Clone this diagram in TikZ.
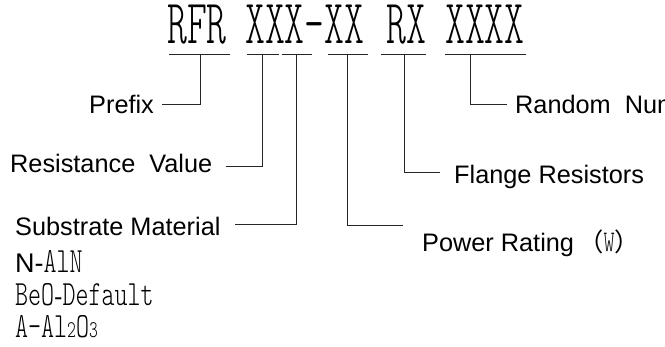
\documentclass[tikz,border=0pt]{standalone}
\usepackage{fontspec}
\setmainfont{Liberation Sans}
\newfontfamily\labfont{Liberation Sans}
\newfontfamily\codefont[FakeStretch=0.6]{Latin Modern Mono Light}
\newfontfamily\monofont[FakeStretch=0.70]{Latin Modern Mono Light}
\newfontfamily\cjkfont{Noto Sans CJK SC}
\begin{document}
\begin{tikzpicture}[x=1pt,y=-1pt,
  codetxt/.style={inner sep=0pt, anchor=base west, text height=32pt, text depth=0pt, font=\codefont\fontsize{63}{70}\selectfont},
  lbl/.style={inner sep=0pt, anchor=base west, font=\labfont\fontsize{25.3}{30}\selectfont},
  lst/.style={inner sep=0pt, anchor=base west, font=\monofont\fontsize{35.4}{40}\selectfont},
  ln/.style={draw=black!85, line width=0.9pt}]
\useasboundingbox (0,0) rectangle (665,346);
% code groups
\node[codetxt] (rfr) at (167,43) {RFR};
\node[codetxt] (xxx) at (245,43) {XXX-XX};
\node[codetxt] (rx) at (386,43) {RX};
\node[codetxt] (xxxx) at (445,43) {XXXX};
% underlines and ticks
\draw[ln] (169,54) -- (230,54);
\draw[ln] (247,54) -- (279,54);
\draw[ln] (282,54) -- (312,54);
\draw[ln] (328,54) -- (368,54);
\draw[ln] (381,54) -- (426,54);
\draw[ln] (445,54) -- (526,54);
\coordinate (t1) at (200,54);
\coordinate (t2) at (262,54);
\coordinate (t3) at (296,54);
\coordinate (t4) at (347,54);
\coordinate (t5) at (404,54);
\coordinate (t6) at (470,54);
% labels
\node[lbl] (prefix) at (89,113) {Prefix};
\node[lbl] (resval) at (10,172) {Resistance\ \ Value};
\node[lbl] (substr) at (15,235) {Substrate Material};
\node[lbl] (random) at (515,113) {Random\ \ Number};
\node[lbl] (flange) at (454,183) {Flange Resistors};
\node[lbl] (power) at (422,251) {Power Rating\,{\cjkfont （}{\monofont\fontsize{30}{34}\selectfont W}{\cjkfont ）}};
% substrate list
\node[lst] (mat1) at (15,272) {{\labfont\fontsize{27}{30}\selectfont N-}AlN};
\node[lst] (mat2) at (15,305) {BeO{\labfont\fontsize{25.3}{30}\selectfont -}Default};
\node[lst] (mat3) at (15,337) {A-Al{\fontsize{24}{28}\selectfont 2}O{\fontsize{24}{28}\selectfont 3}};
% connectors
\coordinate (c1) at (162,104);
\coordinate (c2) at (226,166);
\coordinate (c3) at (235,224);
\coordinate (c4) at (403,225);
\coordinate (c5) at (440,172);
\coordinate (c6) at (507,104);
\draw[ln] (c1) -| (t1);
\draw[ln] (c2) -| (t2);
\draw[ln] (c3) -| (t3);
\draw[ln] (c4) -| (t4);
\draw[ln] (c5) -| (t5);
\draw[ln] (c6) -| (t6);
\end{tikzpicture}
\end{document}
